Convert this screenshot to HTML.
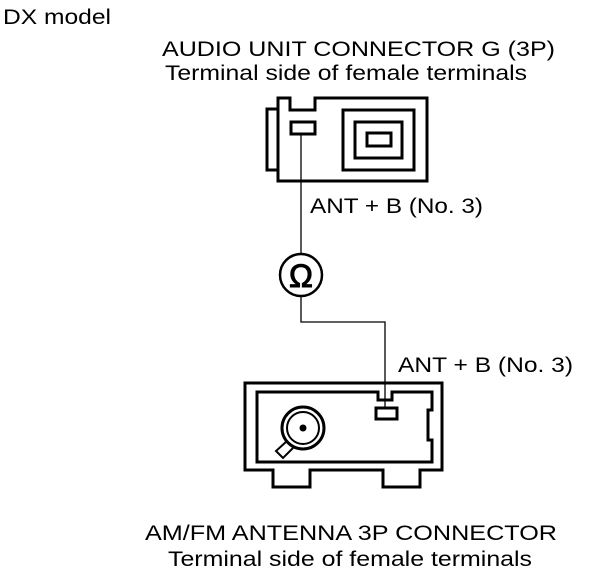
<!DOCTYPE html>
<html><head><style>body{margin:0;background:#fff}svg{display:block}</style></head>
<body>
<svg width="608" height="580" viewBox="0 0 608 580" xmlns="http://www.w3.org/2000/svg" font-family="Liberation Sans, Arial, sans-serif" font-size="21">
<g fill="#000">
<text x="3" y="24" font-size="21" textLength="108" lengthAdjust="spacingAndGlyphs">DX model</text>
<text x="162" y="56" textLength="393" lengthAdjust="spacingAndGlyphs">AUDIO UNIT CONNECTOR G (3P)</text>
<text x="165" y="80" textLength="362" lengthAdjust="spacingAndGlyphs">Terminal side of female terminals</text>
<text x="310" y="213" textLength="173" lengthAdjust="spacingAndGlyphs">ANT + B (No. 3)</text>
<text x="398" y="372" textLength="175" lengthAdjust="spacingAndGlyphs">ANT + B (No. 3)</text>
<text x="145" y="540" textLength="412" lengthAdjust="spacingAndGlyphs">AM/FM ANTENNA 3P CONNECTOR</text>
<text x="168" y="566" textLength="364" lengthAdjust="spacingAndGlyphs">Terminal side of female terminals</text>
</g>
<g fill="none" stroke="#000" stroke-width="3">
<path d="M278 98 H290 V110 H315 V98 H427 V181 H278 Z"/>
<path d="M278 109 H267 V170 H278"/>
<rect x="291" y="122" width="24" height="12"/>
<rect x="343" y="110" width="71" height="60"/>
<rect x="355" y="122" width="47" height="36"/>
<rect x="367" y="133" width="24" height="13"/>
<circle cx="301" cy="275" r="21" stroke-width="2.5"/>
<path d="M245 383 H442 V470 H420 V487 H383 V470 H310 V487 H273 V470 H245 Z"/>
<path d="M257 392 H378 V400 H392 V392 H432 V410 H428 V440 H432 V462 H257 Z"/>
<rect x="376" y="408" width="21" height="11"/>
<circle cx="303" cy="428" r="21"/>
<circle cx="303" cy="428" r="16" stroke-width="2"/>
<path d="M287 441 L276 451 L283 458 L293 448" stroke-width="2"/>
</g>
<circle cx="303" cy="428" r="3.5" fill="#000"/>
<g fill="none" stroke="#000" stroke-width="1.3">
<path d="M301 134 V254"/>
<path d="M301 296 V322 H385 V408"/>
</g>
<text x="301" y="287" font-size="32" text-anchor="middle" fill="#000" stroke="#000" stroke-width="1">Ω</text>
</svg>
</body></html>
